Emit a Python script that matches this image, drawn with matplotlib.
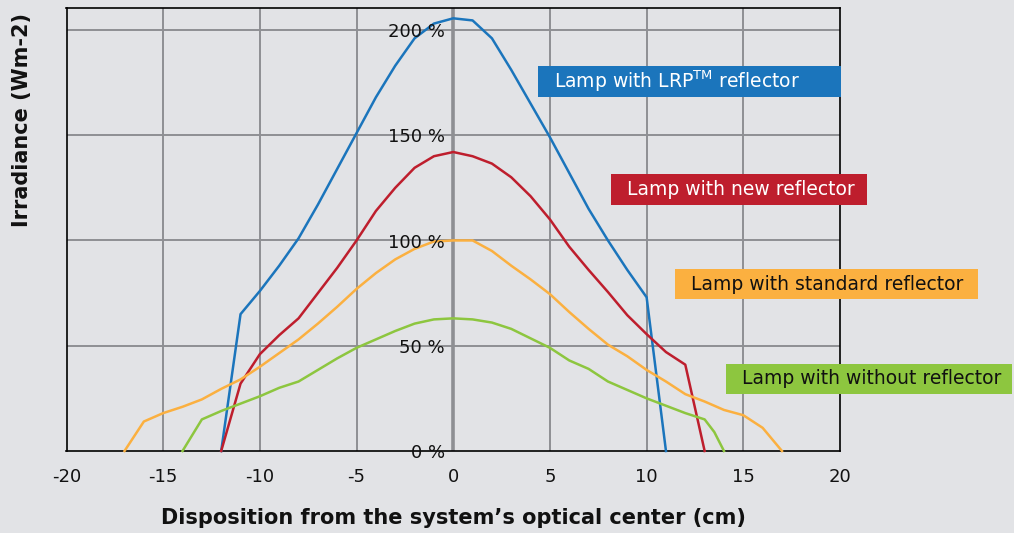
import numpy as np
import matplotlib
matplotlib.use("Agg")
import matplotlib.pyplot as plt
from matplotlib.patches import Rectangle

# data (cm, % irradiance)
x_lrp = [-12, -11, -10, -9, -8, -7, -6, -5, -4, -3, -2, -1, 0, 1, 2, 3, 4, 5, 6, 7, 8, 9, 10, 11]
y_lrp = [0, 65, 76, 88, 101, 117, 134, 151, 168, 183, 196, 203, 205.5, 204.5, 196, 181, 165, 149, 132, 115, 100, 86, 73, 0]

x_new = [-12, -11, -10, -9, -8, -7, -6, -5, -4, -3, -2, -1, 0, 1, 2, 3, 4, 5, 6, 7, 8, 9, 10, 11, 12, 13]
y_new = [0, 32, 46, 55, 63, 75, 87, 100, 114, 125, 134.5, 140, 142, 140, 136.5, 130, 121, 110, 97, 86, 75.5, 64.5, 55.5, 47, 41, 0]

x_std = list(range(-17, 18))
y_std = [0, 14, 18, 21, 24.5, 29.5, 34, 40, 46.5, 53, 60.5, 68.5, 77, 84.5, 91, 96, 99.5, 100,
         100, 95, 88, 81.5, 74.5, 66, 58, 50.5, 45, 38.5, 33, 27, 23.5, 19.5, 17, 11, 0]

x_none = [-14, -13, -12, -11, -10, -9, -8, -7, -6, -5, -4, -3, -2, -1, 0, 1, 2, 3, 4, 5, 6, 7, 8, 9, 10, 11, 12, 13, 13.5, 14]
y_none = [0, 15, 19, 22.5, 26, 30, 33, 38.5, 44, 49, 53, 57, 60.5, 62.5, 63, 62.5, 61, 58, 53.5, 49, 43, 39, 33, 29, 25, 21.5, 18, 15, 9, 0]

labels = [r"Lamp with LRP$^{\mathrm{TM}}$ reflector", "Lamp with new reflector",
          "Lamp with standard reflector", "Lamp with without reflector"]
colors = ["#1b75bc", "#be1e2d", "#fbb040", "#8dc63f"]
text_colors = ["white", "white", "#111111", "#111111"]
y_ticks = [0, 50, 100, 150, 200]
x_ticks = [-20, -15, -10, -5, 0, 5, 10, 15, 20]

bg = "#e2e3e6"
W, H = 1014, 533

fig = plt.figure(figsize=(W / 100, H / 100), dpi=100, facecolor=bg)
ax = fig.add_axes([66.5 / W, 1 - 451 / H, (840 - 66.5) / W, (451 - 8) / H])
ax.set_facecolor(bg)
ax.set_xlim(-20, 20)
ax.set_ylim(0, 210.4)

for v in y_ticks[1:]:
    ax.axhline(v, color="#8e8f93", lw=1.4, zorder=1)
for v in x_ticks[1:-1]:
    ax.axvline(v, color="#8e8f93", lw=2.6 if v == 0 else 1.4, zorder=1)

series = [(x_lrp, y_lrp), (x_new, y_new), (x_std, y_std), (x_none, y_none)]
for (xs, ys), c in zip(series, colors):
    ax.plot(xs, ys, color=c, lw=1.8, zorder=3, clip_on=False)

for s in ax.spines.values():
    s.set_color("black")
    s.set_linewidth(1.2)

ax.set_yticks([])
ax.set_xticks(x_ticks)
ax.set_xticklabels([str(v) for v in x_ticks])
ax.tick_params(axis="x", length=0, pad=12, labelsize=13, labelcolor="#111111")

for v in y_ticks:
    ax.annotate(f"{v} %", (0, v), xytext=(-6, -1.5), textcoords="offset points",
                ha="right", va="center", fontsize=13, color="#111111", zorder=4)

fig.text(453.5 / W, 1 - 518 / H, "Disposition from the system\u2019s optical center (cm)",
         ha="center", va="center", fontsize=15, fontweight="bold", color="#111111")
fig.text(22 / W, 1 - 120 / H, "Irradiance (Wm-2)", rotation=90,
         ha="center", va="center", fontsize=15, fontweight="bold", color="#111111")

# label boxes (pixel positions: left, top, right, bottom)
boxes = [(538, 66, 841, 97), (611, 174, 867, 205), (675, 269, 978, 299), (726, 364, 1012, 394)]
for (l, t, r, b), lab, c, tc in zip(boxes, labels, colors, text_colors):
    fig.patches.append(Rectangle((l / W, 1 - b / H), (r - l) / W, (b - t) / H,
                                 transform=fig.transFigure, facecolor=c, edgecolor="none", zorder=5))
    fig.text((l + 16) / W, 1 - (t + b) / 2 / H, lab, ha="left", va="center",
             fontsize=13.5, color=tc, zorder=6)

fig.savefig("out.png", dpi=100, facecolor=bg)
